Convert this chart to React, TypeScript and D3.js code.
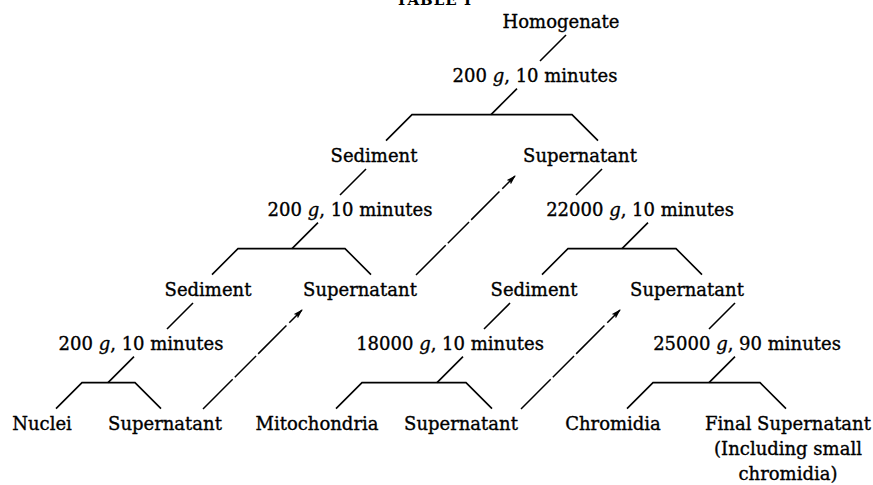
import React from "react";
import { scaleLinear, line } from "d3";

// nodes of the fractionation scheme: row = 0..3, cx = centre in page px units
const nodes = [
  { id: "hom", label: "Homogenate", row: 0, cx: 561 },
  { id: "sed1", label: "Sediment", row: 1, cx: 374 },
  { id: "sup1", label: "Supernatant", row: 1, cx: 580 },
  { id: "sed2", label: "Sediment", row: 2, cx: 208 },
  { id: "sup2", label: "Supernatant", row: 2, cx: 360 },
  { id: "sed3", label: "Sediment", row: 2, cx: 534 },
  { id: "sup3", label: "Supernatant", row: 2, cx: 687 },
  { id: "nuc", label: "Nuclei", row: 3, cx: 42 },
  { id: "sup4", label: "Supernatant", row: 3, cx: 165 },
  { id: "mito", label: "Mitochondria", row: 3, cx: 317 },
  { id: "sup5", label: "Supernatant", row: 3, cx: 461 },
  { id: "chr", label: "Chromidia", row: 3, cx: 613 },
  { id: "fin", label: "Final Supernatant", row: 3, cx: 788, extra: ["(Including small", "chromidia)"] }
];

// centrifugation steps: force, time, label centre, stems and bracket
const steps = [
  { parent: "hom", force: "200", time: "10", cx: 535, stem1: 566, stem2: 517, left: 412, right: 572 },
  { parent: "sed1", force: "200", time: "10", cx: 350, stem1: 366, stem2: 318, left: 238, right: 345 },
  { parent: "sed2", force: "200", time: "10", cx: 141, stem1: 193, stem2: 134, left: 82, right: 135 },
  { parent: "sup1", force: "22000", time: "10", cx: 640, stem1: 602, stem2: 648, left: 568, right: 676 },
  { parent: "sed3", force: "18000", time: "10", cx: 450, stem1: 510, stem2: 463, left: 362, right: 466 },
  { parent: "sup3", force: "25000", time: "90", cx: 747, stem1: 735, stem2: 735, left: 653, right: 760 }
];

// supernatants that are recycled back up
const arrows = [
  { from: "sup4", to: "sup2", x: 203 },
  { from: "sup2", to: "sup1", x: 416 },
  { from: "sup5", to: "sup3", x: 521 }
];

const W = 873;
const H = 485;
const font = "'DejaVu Serif', serif";
const ink = "#000";
const fs = 18;

export default function App() {
  const y = scaleLinear().domain([0, 3]).range([28, 430]);
  const x = scaleLinear().domain([0, W]).range([0, W]);
  const byId = Object.fromEntries(nodes.map(n => [n.id, n]));
  const path = line();
  const diag = 26;
  const txt = { fontFamily: font, fontSize: fs, fill: ink, stroke: ink, strokeWidth: 0.35, textAnchor: "middle" as const };

  return (
    <svg width={W} height={H} style={{ position: "absolute", left: 0, top: 0, background: "#fff" }}>
      <defs>
        <marker id="head" viewBox="0 0 10 6" refX="9" refY="3" markerWidth="10" markerHeight="6" markerUnits="userSpaceOnUse" orient="auto">
          <path d="M0,0 L10,3 L0,6 L2,3 Z" fill={ink} />
        </marker>
      </defs>

      {/* title, cut by the top edge */}
      <text x={472} y={5} textAnchor="end" fontFamily={font} fontWeight="bold" fontSize={15} letterSpacing={1} fill={ink}>
        TABLE I
      </text>

      {nodes.map(n => (
        <g key={n.id}>
          <text x={x(n.cx)} y={y(n.row)} {...txt}>
            {n.label}
          </text>
          {(n.extra || []).map((t, i) => (
            <text key={i} x={x(n.cx)} y={y(n.row) + 25 * (i + 1)} {...txt}>
              {t}
            </text>
          ))}
        </g>
      ))}

      {steps.map((s, i) => {
        const p = byId[s.parent];
        const yp = y(p.row);
        const ys = y(p.row + 0.4);
        const yb = ys + 33;
        return (
          <g key={i}>
            <text x={x(s.cx)} y={ys} {...txt}>
              {s.force} <tspan fontStyle="italic">g</tspan>, {s.time} minutes
            </text>
            <g stroke={ink} strokeWidth={1.6} fill="none">
              <path d={path([[x(s.stem1), yp + 7], [x(s.stem1) - diag, yp + 7 + diag]])} />
              <path d={path([[x(s.stem2), ys + 7], [x(s.stem2) - diag, yb]])} />
              <path d={path([[x(s.left) - diag, yb + diag], [x(s.left), yb], [x(s.right), yb], [x(s.right) + diag, yb + diag]])} />
            </g>
          </g>
        );
      })}

      {arrows.map((a, i) => {
        const y0 = y(byId[a.from].row) - 21;
        const y1 = y(byId[a.to].row) + 14;
        return (
          <path
            key={i}
            d={path([[x(a.x), y0], [x(a.x) + (y0 - y1), y1]])}
            stroke={ink}
            strokeWidth={1.5}
            strokeDasharray="42 3 30 3 40 4"
            fill="none"
            markerEnd="url(#head)"
          />
        );
      })}
    </svg>
  );
}
